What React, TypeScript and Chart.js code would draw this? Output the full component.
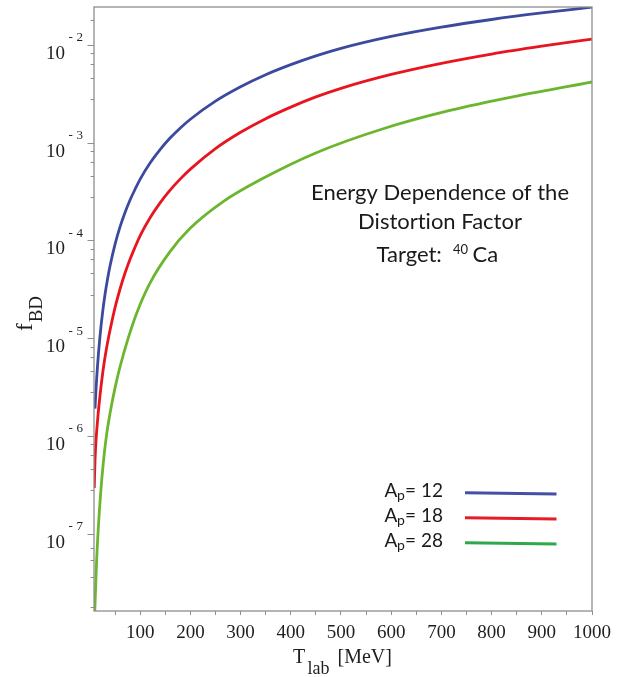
import React, { useEffect, useRef } from 'react';
import { Chart, registerables } from 'chart.js';

Chart.register(...registerables);

// ---- data ----
// A_p = 12
const T_AP12 = [10, 11, 12, 13, 14, 15, 17, 20, 25, 30, 35, 40, 50, 60, 70, 80, 90, 100, 120, 140, 160, 180, 200, 250, 300, 350, 400, 450, 500, 600, 700, 800, 900, 1000];
const F_AP12 = [1.905e-6, 2.399e-6, 2.985e-6, 3.631e-6, 4.365e-6, 5.188e-6, 7.079e-6, 1.059e-5, 1.82e-5, 2.818e-5, 4.046e-5, 5.508e-5, 9.183e-5, 1.384e-4, 1.945e-4, 2.606e-4, 3.357e-4, 4.246e-4, 6.237e-4, 8.551e-4, 1.122e-3, 1.416e-3, 1.738e-3, 2.661e-3, 3.733e-3, 4.955e-3, 6.281e-3, 7.727e-3, 9.226e-3, 1.222e-2, 1.521e-2, 1.82e-2, 2.123e-2, 2.438e-2];
// A_p = 18
const T_AP18 = [8.5, 10, 12, 13.4, 16, 20, 24, 28, 32, 36, 40, 50, 60, 70, 80, 90, 100, 120, 140, 160, 180, 200, 250, 300, 350, 400, 450, 500, 600, 700, 800, 900, 1000];
const F_AP18 = [2.938e-7, 5.61e-7, 8.974e-7, 1.13e-6, 1.633e-6, 2.612e-6, 3.899e-6, 5.508e-6, 7.413e-6, 9.594e-6, 1.213e-5, 2.065e-5, 3.206e-5, 4.667e-5, 6.457e-5, 8.59e-5, 1.122e-4, 1.718e-4, 2.438e-4, 3.289e-4, 4.266e-4, 5.37e-4, 8.71e-4, 1.279e-3, 1.762e-3, 2.312e-3, 2.938e-3, 3.597e-3, 4.989e-3, 6.486e-3, 8.072e-3, 9.705e-3, 1.146e-2];
// A_p = 28
const T_AP28 = [9.6, 13, 16.6, 21, 26.5, 33, 40, 50, 60, 76, 93, 119.5, 159, 199, 266, 339, 452, 584, 717, 850, 1000];
const F_AP28 = [1.622e-8, 5.023e-8, 1.146e-7, 2.506e-7, 5.297e-7, 1.028e-6, 1.714e-6, 3.126e-6, 5.14e-6, 9.954e-6, 1.803e-5, 3.656e-5, 7.638e-5, 1.324e-4, 2.512e-4, 4.169e-4, 7.943e-4, 1.39e-3, 2.138e-3, 2.999e-3, 4.178e-3];
const AP_LABELS = ['12', '18', '28'];

const X_MAJOR_TICKS = [100, 200, 300, 400, 500, 600, 700, 800, 900, 1000];
const X_MINOR_TICKS = [50, 150, 250, 350, 450, 550, 650, 750, 850, 950];
const Y_MAJOR_EXPONENTS = [-2, -3, -4, -5, -6, -7];
const Y_MINOR_TICKS = [
  1.8e-2,
  8.2e-3, 6.4e-3, 4.6e-3, 2.8e-3,
  8.2e-4, 6.4e-4, 4.6e-4, 2.8e-4,
  8.2e-5, 6.4e-5, 4.6e-5, 2.8e-5,
  8.2e-6, 6.4e-6, 4.6e-6, 2.8e-6,
  8.2e-7, 6.4e-7, 4.6e-7, 2.8e-7,
  7.2e-8, 5.4e-8, 3.6e-8, 1.8e-8,
];
const X_MIN = 8;
const X_MAX = 1000;
const Y_MIN = 1.622e-8;
const Y_MAX = 2.443e-2;

// ---- styles ----
const CURVE_COLORS = ['#3c4a9e', '#e8141e', '#6cb52e'];
const LEGEND_COLORS = ['#4450a6', '#e61c26', '#2ea84a'];
const AXIS_COLOR = '#8e8e8e';
const TEXT_COLOR = '#1e1e1e';
const SERIF = '"Liberation Serif", "Times New Roman", serif';
const SANS = 'Lato, "Open Sans", sans-serif';

const decorPlugin = {
  id: 'decor',
  afterDraw(chart: any) {
    const { ctx, chartArea: a, scales } = chart;
    const y = scales.y;
    ctx.save();
    try {
      (ctx as any).textRendering = 'optimizeSpeed';
    } catch (e) {
      /* ignore */
    }
    // frame
    ctx.strokeStyle = AXIS_COLOR;
    ctx.lineWidth = 1.3;
    ctx.strokeRect(a.left, a.top, a.right - a.left, a.bottom - a.top);

    // y tick marks
    ctx.lineWidth = 1;
    ctx.beginPath();
    Y_MAJOR_EXPONENTS.forEach((e) => {
      const py = Math.round(y.getPixelForValue(Math.pow(10, e))) + 0.5;
      ctx.moveTo(a.left - 6.5, py);
      ctx.lineTo(a.left, py);
    });
    Y_MINOR_TICKS.forEach((v) => {
      const py = Math.round(y.getPixelForValue(v)) + 0.5;
      ctx.moveTo(a.left - 3.5, py);
      ctx.lineTo(a.left, py);
    });
    ctx.stroke();

    // y tick labels 10^-n
    ctx.fillStyle = TEXT_COLOR;
    ctx.textBaseline = 'alphabetic';
    Y_MAJOR_EXPONENTS.forEach((e) => {
      const py = y.getPixelForValue(Math.pow(10, e));
      ctx.font = `19px ${SERIF}`;
      ctx.textAlign = 'right';
      ctx.fillText('10', a.left - 29, py + 14);
      ctx.font = `13px ${SERIF}`;
      ctx.textAlign = 'left';
      ctx.fillText('-', a.left - 25.5, py - 3.5);
      ctx.fillText(String(-e), a.left - 17.5, py - 3.5);
    });

    // y axis title f_BD (rotated)
    ctx.save();
    ctx.translate(32, 331);
    ctx.rotate(-Math.PI / 2);
    ctx.textAlign = 'left';
    ctx.font = `23px ${SERIF}`;
    ctx.fillText('f', 0, 0);
    const fw = ctx.measureText('f').width;
    ctx.font = `19px ${SERIF}`;
    ctx.fillText('BD', fw + 1, 10);
    ctx.restore();

    // x axis title T_lab [MeV]
    ctx.textAlign = 'left';
    ctx.font = `20px ${SERIF}`;
    ctx.fillText('T', 293, 663);
    ctx.font = `18px ${SERIF}`;
    ctx.fillText('lab', 307.5, 673.5);
    ctx.font = `20px ${SERIF}`;
    ctx.fillText('[MeV]', 337.5, 663);

    // annotation
    ctx.fillStyle = '#1a1a1a';
    ctx.font = `22px ${SANS}`;
    ctx.textAlign = 'center';
    ctx.fillText('Energy Dependence of the', 440, 200);
    ctx.fillText('Distortion Factor', 440, 228.5);
    ctx.textAlign = 'left';
    ctx.fillText('Target:', 376.5, 262);
    ctx.font = `13px ${SANS}`;
    ctx.fillText('40', 453, 253.5);
    ctx.font = `22px ${SANS}`;
    ctx.fillText('Ca', 472.5, 262);

    // legend
    AP_LABELS.forEach((lab, i) => {
      const by = 497 + i * 25;
      ctx.fillStyle = '#1a1a1a';
      ctx.font = `19px ${SANS}`;
      ctx.fillText('A', 384.5, by);
      ctx.font = `14px ${SANS}`;
      ctx.fillText('p', 397, by + 3);
      ctx.font = `19px ${SANS}`;
      ctx.fillText('= ' + lab, 405, by);
      ctx.strokeStyle = LEGEND_COLORS[i];
      ctx.lineWidth = 3;
      ctx.beginPath();
      ctx.moveTo(465, by - 4.2);
      ctx.lineTo(556.5, by - 3);
      ctx.stroke();
    });
    ctx.restore();
  },
};

export default function App() {
  const ref = useRef<HTMLCanvasElement | null>(null);
  useEffect(() => {
    if (!ref.current) return;
    const series = [
      { t: T_AP12, f: F_AP12 },
      { t: T_AP18, f: F_AP18 },
      { t: T_AP28, f: F_AP28 },
    ];
    const chart = new Chart(ref.current, {
      type: 'line',
      data: {
        datasets: series.map((s, i) => ({
          label: 'Ap= ' + AP_LABELS[i],
          data: s.t.map((t, j) => ({ x: t, y: s.f[j] })),
          borderColor: CURVE_COLORS[i],
          backgroundColor: CURVE_COLORS[i],
          borderWidth: 2.8,
          pointRadius: 0,
          fill: false,
          cubicInterpolationMode: 'monotone',
        })),
      },
      options: {
        animation: false,
        responsive: false,
        events: [],
        layout: { padding: { left: 0, top: 7, right: 43, bottom: 0 } },
        plugins: { legend: { display: false }, tooltip: { enabled: false } },
        scales: {
          x: {
            type: 'linear',
            min: X_MIN,
            max: X_MAX,
            afterBuildTicks: (s: any) => {
              s.ticks = [...X_MINOR_TICKS, ...X_MAJOR_TICKS].sort((p, q) => p - q).map((v) => ({ value: v }));
            },
            afterFit: (s: any) => {
              s.height = 66;
            },
            grid: { display: true, drawOnChartArea: false, drawTicks: true, tickLength: 4, color: AXIS_COLOR, lineWidth: 1 },
            border: { display: false },
            ticks: {
              autoSkip: false,
              maxRotation: 0,
              padding: 7,
              color: TEXT_COLOR,
              font: { family: SERIF, size: 19 },
              callback: (v: any) => (X_MAJOR_TICKS.includes(Number(v)) ? String(v) : ''),
            },
          },
          y: {
            type: 'logarithmic',
            min: Y_MIN,
            max: Y_MAX,
            afterBuildTicks: (s: any) => {
              s.ticks = Y_MAJOR_EXPONENTS.map((e) => ({ value: Math.pow(10, e) }));
            },
            afterFit: (s: any) => {
              s.width = 94;
            },
            grid: { display: false },
            border: { display: false },
            ticks: { display: false },
          },
        },
      },
      plugins: [decorPlugin],
    } as any);
    return () => chart.destroy();
  }, []);
  return (
    <div style={{ position: 'fixed', left: 0, top: 0, width: 635, height: 677, background: '#fff' }}>
      <canvas ref={ref} width={635} height={677} style={{ display: 'block' }} />
    </div>
  );
}
